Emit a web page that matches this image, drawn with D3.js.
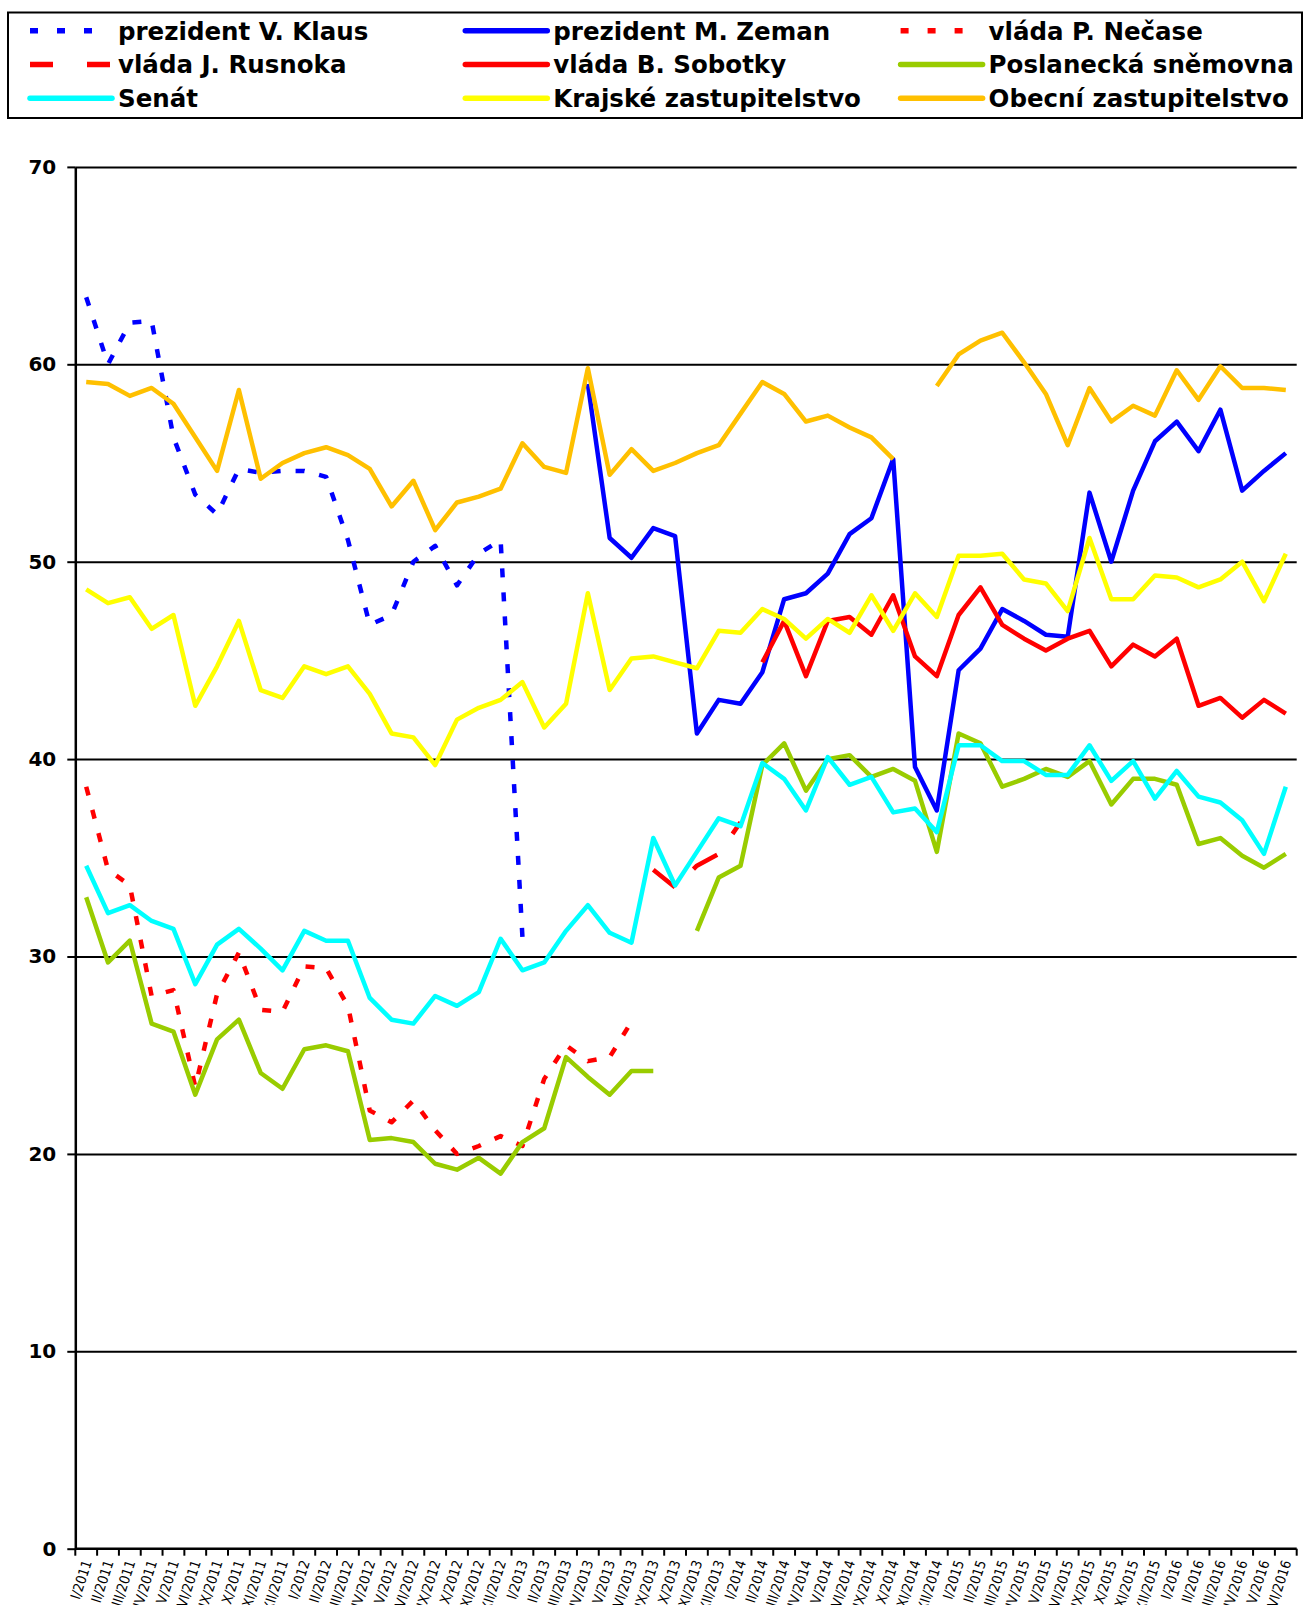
<!DOCTYPE html>
<html lang="cs">
<head>
<meta charset="UTF-8">
<style>
  body { margin: 0; background: #fff; }
  svg { display: block; }
  .legend text { font: bold 24.5px "DejaVu Sans", Verdana, sans-serif; fill: #000; }
  .yaxis text { font: bold 20px "DejaVu Sans", Verdana, sans-serif; fill: #000; }
  .xlab { font: 14px "Liberation Sans Narrow", "DejaVu Sans Condensed", sans-serif; fill: #000; }
</style>
<script src="https://d3js.org/d3.v7.min.js"></script>
<title>Důvěra v instituce</title>
</head>
<body>
<svg width="1305" height="1605"></svg>
<script>

// categories (survey months; July and August are not surveyed)
var categories = [
  "I/2011","II/2011","III/2011","IV/2011","V/2011","VI/2011","IX/2011","X/2011","XI/2011","XII/2011",
  "I/2012","II/2012","III/2012","IV/2012","V/2012","VI/2012","IX/2012","X/2012","XI/2012","XII/2012",
  "I/2013","II/2013","III/2013","IV/2013","V/2013","VI/2013","IX/2013","X/2013","XI/2013","XII/2013",
  "I/2014","II/2014","III/2014","IV/2014","V/2014","VI/2014","IX/2014","X/2014","XI/2014","XII/2014",
  "I/2015","II/2015","III/2015","IV/2015","V/2015","VI/2015","IX/2015","X/2015","XI/2015","XII/2015",
  "I/2016","II/2016","III/2016","IV/2016","V/2016","VI/2016"
];
var yTicks = [0, 10, 20, 30, 40, 50, 60, 70];

var N = null;
var klaus = [63.4, 60.0, 62.1, 62.2, 56.3, 53.4, 52.4, 54.7, 54.5, 54.6,
  54.6, 54.3, 51.1, 46.8, 47.3, 50.0, 50.8, 48.8, 50.4, 51.1,
  31.0, N, N, N, N, N, N, N, N, N,
  N, N, N, N, N, N, N, N, N, N,
  N, N, N, N, N, N, N, N, N, N,
  N, N, N, N, N, N];
var zeman = [N, N, N, N, N, N, N, N, N, N,
  N, N, N, N, N, N, N, N, N, N,
  N, N, N, 59.0, 51.2, 50.2, 51.7, 51.3, 41.3, 43.0,
  42.8, 44.4, 48.1, 48.4, 49.4, 51.4, 52.2, 55.2, 39.6, 37.4,
  44.5, 45.6, 47.6, 47.0, 46.3, 46.2, 53.5, 50.0, 53.6, 56.1,
  57.1, 55.6, 57.7, 53.6, 54.6, 55.5];
var necas = [38.6, 34.4, 33.6, 28.0, 28.3, 23.4, 28.1, 30.2, 27.3, 27.2,
  29.5, 29.4, 27.5, 22.2, 21.6, 22.7, 21.2, 20.0, 20.4, 20.9,
  20.4, 23.8, 25.5, 24.7, 24.9, 26.7, N, N, N, N,
  N, N, N, N, N, N, N, N, N, N,
  N, N, N, N, N, N, N, N, N, N,
  N, N, N, N, N, N];
var rusnok = [N, N, N, N, N, N, N, N, N, N,
  N, N, N, N, N, N, N, N, N, N,
  N, N, N, N, N, N, 34.4, 33.5, 34.6, 35.2,
  36.8, N, N, N, N, N, N, N, N, N,
  N, N, N, N, N, N, N, N, N, N,
  N, N, N, N, N, N];
var sobotka = [N, N, N, N, N, N, N, N, N, N,
  N, N, N, N, N, N, N, N, N, N,
  N, N, N, N, N, N, N, N, N, N,
  N, 44.9, 47.0, 44.2, 47.0, 47.2, 46.3, 48.3, 45.2, 44.2,
  47.3, 48.7, 46.8, 46.1, 45.5, 46.1, 46.5, 44.7, 45.8, 45.2,
  46.1, 42.7, 43.1, 42.1, 43.0, 42.3];
var snemovna = [33.0, 29.7, 30.8, 26.6, 26.2, 23.0, 25.8, 26.8, 24.1, 23.3,
  25.3, 25.5, 25.2, 20.7, 20.8, 20.6, 19.5, 19.2, 19.8, 19.0,
  20.6, 21.3, 24.9, 23.9, 23.0, 24.2, 24.2, N, 31.3, 34.0,
  34.6, 39.7, 40.8, 38.4, 40.0, 40.2, 39.1, 39.5, 38.9, 35.3,
  41.3, 40.8, 38.6, 39.0, 39.5, 39.1, 39.9, 37.7, 39.0, 39.0,
  38.7, 35.7, 36.0, 35.1, 34.5, 35.2];
var senat = [34.6, 32.2, 32.6, 31.8, 31.4, 28.6, 30.6, 31.4, 30.4, 29.3,
  31.3, 30.8, 30.8, 27.9, 26.8, 26.6, 28.0, 27.5, 28.2, 30.9,
  29.3, 29.7, 31.3, 32.6, 31.2, 30.7, 36.0, 33.6, 35.3, 37.0,
  36.6, 39.8, 39.0, 37.4, 40.1, 38.7, 39.1, 37.3, 37.5, 36.3,
  40.7, 40.7, 39.9, 39.9, 39.2, 39.2, 40.7, 38.9, 39.9, 38.0,
  39.4, 38.1, 37.8, 36.9, 35.2, 38.6];
var krajske = [48.6, 47.9, 48.2, 46.6, 47.3, 42.7, 44.7, 47.0, 43.5, 43.1,
  44.7, 44.3, 44.7, 43.3, 41.3, 41.1, 39.7, 42.0, 42.6, 43.0,
  43.9, 41.6, 42.8, 48.4, 43.5, 45.1, 45.2, 44.9, 44.6, 46.5,
  46.4, 47.6, 47.1, 46.1, 47.1, 46.4, 48.3, 46.5, 48.4, 47.2,
  50.3, 50.3, 50.4, 49.1, 48.9, 47.5, 51.2, 48.1, 48.1, 49.3,
  49.2, 48.7, 49.1, 50.0, 48.0, 50.4];
var obecni = [59.1, 59.0, 58.4, 58.8, 58.0, 56.3, 54.6, 58.7, 54.2, 55.0,
  55.5, 55.8, 55.4, 54.7, 52.8, 54.1, 51.6, 53.0, 53.3, 53.7,
  56.0, 54.8, 54.5, 59.8, 54.4, 55.7, 54.6, 55.0, 55.5, 55.9,
  57.5, 59.1, 58.5, 57.1, 57.4, 56.8, 56.3, 55.2, N, 58.9,
  60.5, 61.2, 61.6, 60.1, 58.5, 55.9, 58.8, 57.1, 57.9, 57.4,
  59.7, 58.2, 59.9, 58.8, 58.8, 58.7];

var seriesNames = ["prezident V. Klaus", "prezident M. Zeman", "vláda P. Nečase",
  "vláda J. Rusnoka", "vláda B. Sobotky", "Poslanecká sněmovna",
  "Senát", "Krajské zastupitelstvo", "Obecní zastupitelstvo"];
var seriesValues = [klaus, zeman, necas, rusnok, sobotka, snemovna, senat, krajske, obecni];

// styles
var colors = ["#0000ff", "#0000ff", "#ff0000", "#ff0000", "#ff0000", "#99cc00", "#00ffff", "#ffff00", "#ffc000"];
var dashes = ["9,15", null, "9,15", "28,26", null, null, null, null, null];
var legendDashes = ["8,19", null, "8,19", "23,34", null, null, null, null, null];

(function() {
    var svg = d3.select("svg");
    var pLeft = 75.3, pRight = 1296.7, pTop = 166.9, pBottom = 1548.7;

    var x = d3.scaleBand().domain(categories).range([pLeft, pRight]).padding(0);
    var y = d3.scaleLinear().domain([0, 70]).range([pBottom, pTop]);

    // gridlines
    svg.append("g")
       .attr("transform", "translate(" + pLeft + ",0)")
       .call(d3.axisLeft(y).tickValues(yTicks.slice(1)).tickSize(-(pRight - pLeft)).tickFormat(""))
       .call(function(g) { g.select(".domain").remove(); })
       .selectAll("line").attr("stroke", "#000").attr("stroke-width", 2);

    // y axis
    svg.append("g")
       .attr("class", "yaxis")
       .attr("transform", "translate(" + pLeft + ",0)")
       .call(d3.axisLeft(y).tickValues(yTicks).tickSize(8).tickSizeOuter(0).tickPadding(11))
       .call(function(g) {
           g.select(".domain").attr("stroke-width", 2.5);
           g.selectAll("line").attr("stroke-width", 2);
       });

    // x axis line + ticks at band boundaries
    var xa = svg.append("g");
    xa.append("line")
      .attr("x1", pLeft).attr("x2", pRight)
      .attr("y1", pBottom).attr("y2", pBottom)
      .attr("stroke", "#000").attr("stroke-width", 2.5);
    xa.selectAll(".xt")
      .data(categories.concat(["end"]))
      .enter().append("line")
      .attr("x1", function(d) { return d === "end" ? pRight : x(d); })
      .attr("x2", function(d) { return d === "end" ? pRight : x(d); })
      .attr("y1", pBottom).attr("y2", pBottom + 7)
      .attr("stroke", "#000").attr("stroke-width", 2);
    xa.selectAll(".xlab")
      .data(categories)
      .enter().append("text")
      .attr("class", "xlab")
      .attr("text-anchor", "end")
      .attr("dy", "0.35em")
      .attr("transform", function(d) {
          return "translate(" + (x(d) + x.bandwidth() / 2 + 1) + "," + (pBottom + 12) + ") rotate(-72)";
      })
      .text(function(d) { return d; });

    // lines
    var line = d3.line()
        .defined(function(d) { return d != null; })
        .x(function(d, i) { return x(categories[i]) + x.bandwidth() / 2; })
        .y(function(d) { return y(d); });

    seriesValues.forEach(function(vals, k) {
        svg.append("path")
           .datum(vals)
           .attr("d", line)
           .attr("fill", "none")
           .attr("stroke", colors[k])
           .attr("stroke-width", 4.5)
           .attr("stroke-linejoin", "round")
           .attr("stroke-dasharray", dashes[k]);
    });

    // legend
    svg.append("rect")
       .attr("x", 8).attr("y", 12.5)
       .attr("width", 1294).attr("height", 105.5)
       .attr("fill", "none").attr("stroke", "#000").attr("stroke-width", 2);

    var lg = svg.append("g").attr("class", "legend");
    seriesNames.forEach(function(name, k) {
        var col = k % 3, row = Math.floor(k / 3);
        var x0 = 30 + col * 435.3, cy = 30.7 + row * 33.8;
        var dotted = legendDashes[k] === "8,19";
        lg.append("line")
          .attr("x1", x0).attr("x2", x0 + (dotted ? 64 : 82))
          .attr("y1", cy).attr("y2", cy)
          .attr("stroke", colors[k]).attr("stroke-width", 5.5)
          .attr("stroke-linecap", legendDashes[k] ? "butt" : "round")
          .attr("stroke-dasharray", legendDashes[k]);
        lg.append("text")
          .attr("x", x0 + 88).attr("y", cy)
          .attr("dy", "0.36em")
          .text(name);
    });
})();

</script>
</body>
</html>
